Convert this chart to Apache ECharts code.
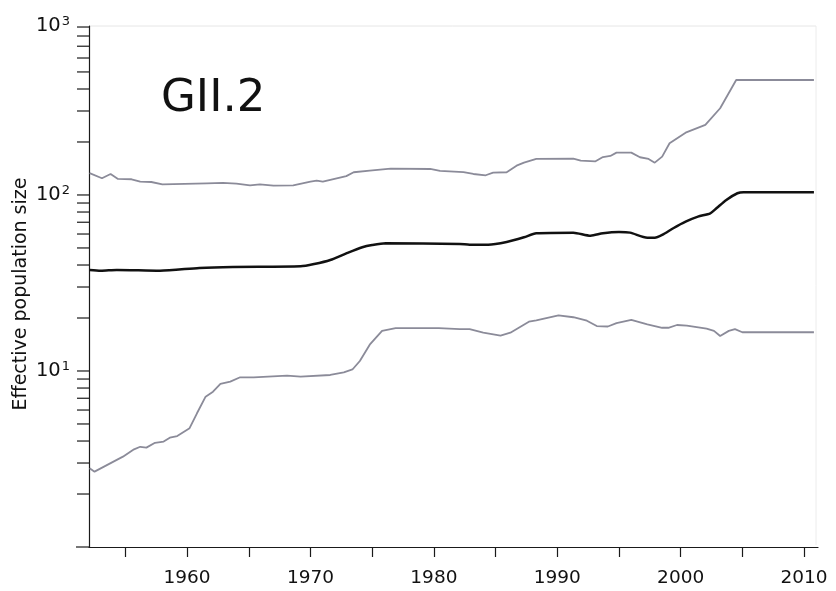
<!DOCTYPE html>
<html>
<head>
<meta charset="utf-8">
<script src="https://cdn.jsdelivr.net/npm/echarts@6/dist/echarts.min.js"></script>
<style>html,body{margin:0;padding:0;background:#fff}#c{width:836px;height:591px}</style>
</head>
<body>
<div id="c"></div>
<script>
// ---- data ----
const upperYears = [1952.1, 1953.1, 1953.8, 1954.4, 1955.5, 1956.2, 1957.1, 1958.0, 1961.6, 1962.9, 1964.0, 1965.1, 1965.9, 1967.0, 1968.6, 1970.0, 1970.5, 1971.0, 1972.9, 1973.5, 1974.8, 1976.5, 1979.7, 1980.5, 1982.4, 1983.2, 1984.2, 1984.8, 1985.9, 1986.7, 1987.3, 1988.3, 1991.3, 1991.9, 1993.1, 1993.7, 1994.3, 1994.8, 1996.0, 1996.7, 1997.4, 1997.9, 1998.5, 1999.1, 2000.4, 2002.0, 2003.2, 2004.5, 2010.8];
const upperValues = [133, 124.5, 131.6, 123.3, 122.8, 119, 118.5, 115, 116.5, 117, 116, 113.5, 115, 113, 113.5, 119, 120.5, 119, 128, 134.6, 137.4, 141, 140.5, 137, 135, 131.6, 129.4, 133.9, 134.6, 146.7, 152.6, 160.2, 160.8, 156.7, 155.4, 164.3, 166.6, 174, 174, 163.8, 160.2, 152.6, 165.1, 196.8, 226, 250, 311, 450, 450];

const medianYears = [1952.1, 1953.0, 1954.3, 1957.8, 1961.0, 1963.7, 1969.2, 1970.3, 1971.6, 1972.9, 1974.2, 1975.0, 1976.1, 1982.1, 1982.9, 1984.4, 1985.9, 1987.3, 1988.3, 1991.3, 1992.7, 1993.7, 1995.0, 1995.9, 1997.3, 1997.9, 1998.5, 1999.4, 2000.4, 2001.4, 2002.4, 2002.9, 2003.7, 2004.6, 2005.1, 2010.8];
const medianValues = [37.5, 37.1, 37.5, 37.1, 38.5, 39.0, 39.3, 40.5, 42.7, 46.6, 50.5, 52.0, 53.2, 52.7, 52.2, 52.2, 54.1, 57.5, 60.6, 61.1, 58.7, 60.6, 61.6, 61.1, 57.2, 57.2, 59.3, 64.7, 70.5, 75.3, 78.7, 84.0, 93.7, 102.3, 103.6, 103.6];

const lowerYears = [1952.1, 1952.5, 1954.8, 1955.7, 1956.2, 1956.7, 1957.4, 1958.1, 1958.6, 1959.2, 1960.2, 1960.8, 1961.5, 1962.1, 1962.7, 1963.5, 1964.3, 1965.4, 1968.1, 1969.2, 1971.6, 1972.7, 1973.4, 1974.0, 1974.8, 1975.8, 1976.9, 1980.4, 1982.1, 1982.9, 1984.0, 1985.4, 1986.2, 1987.7, 1988.3, 1990.1, 1991.3, 1992.4, 1993.2, 1994.1, 1994.8, 1996.0, 1997.3, 1998.5, 1999.0, 1999.7, 2000.5, 2002.1, 2002.7, 2003.2, 2003.9, 2004.4, 2005.0, 2010.8];
const lowerValues = [2.80, 2.68, 3.26, 3.59, 3.71, 3.67, 3.91, 3.97, 4.18, 4.27, 4.73, 5.75, 7.15, 7.63, 8.44, 8.70, 9.21, 9.21, 9.40, 9.29, 9.49, 9.83, 10.2, 11.4, 14.1, 16.9, 17.5, 17.5, 17.3, 17.3, 16.5, 15.9, 16.5, 19.05, 19.4, 20.7, 20.2, 19.3, 18.0, 17.9, 18.7, 19.5, 18.4, 17.6, 17.6, 18.25, 18.1, 17.4, 16.9, 15.8, 16.9, 17.3, 16.6, 16.6];

const xTickValues = [1955, 1960, 1965, 1970, 1975, 1980, 1985, 1990, 1995, 2000, 2005, 2010];
const xLabelValues = [1960, 1970, 1980, 1990, 2000, 2010];
const yTickValues = [2, 3, 4, 5, 6, 7, 8, 9, 10, 20, 30, 40, 50, 60, 70, 80, 90, 100, 200, 300, 400, 500, 600, 700, 800, 900];

const titleText = 'GII.2';
const yAxisTitle = 'Effective population size';

const X_MIN = 1952.05, X_MAX = 2011.13, Y_MIN = 1, Y_MAX = 912;

function pairs(xs, ys) { return xs.map((x, i) => [x, ys[i]]); }

const chart = echarts.init(document.getElementById('c'), null, { renderer: 'canvas' });
const axisColor = '#1a1a1a';
const grayLine = '#8b8b99';

chart.setOption({
  animation: false,
  backgroundColor: '#fff',
  title: {
    text: titleText, left: 156, top: 72,
    textStyle: { fontFamily: 'DejaVu Sans', fontSize: 45, fontWeight: 'normal', color: '#111' }
  },
  grid: { left: 89, right: 18, top: 26, bottom: 44, containLabel: false, outerBoundsMode: 'none' },
  xAxis: {
    type: 'value', min: X_MIN, max: X_MAX,
    axisLine: { show: true, lineStyle: { color: axisColor, width: 1.2 } },
    axisTick: { show: true, length: 10, customValues: xTickValues, lineStyle: { color: axisColor, width: 1.2 } },
    axisLabel: { customValues: xLabelValues, margin: 22, fontFamily: 'DejaVu Sans', fontSize: 18.5, color: '#111',
      formatter: v => String(Math.round(v)) },
    splitLine: { show: false }
  },
  yAxis: {
    type: 'log', logBase: 10, min: Y_MIN, max: Y_MAX,
    name: yAxisTitle, nameLocation: 'middle', nameRotate: 90, nameGap: 58, nameMoveOverlap: false,
    nameTextStyle: { fontFamily: 'DejaVu Sans', fontSize: 19, color: '#111', padding: [0, 15, 0, 0] },
    axisLine: { show: true, lineStyle: { color: axisColor, width: 1.2 } },
    axisTick: { show: false },
    splitLine: { show: false },
    axisLabel: {
      margin: 19,
      formatter: function (v) {
        if (v < 5) return '';
        const e = Math.round(Math.log10(v));
        return '{b|10}{s|' + e + '}';
      },
      rich: {
        b: { fontFamily: 'DejaVu Sans', fontSize: 19.5, color: '#111', lineHeight: 22 },
        s: { fontFamily: 'DejaVu Sans', fontSize: 13, color: '#111', verticalAlign: 'top', lineHeight: 13, padding: [0, 0, 9, 1] }
      }
    }
  },
  graphic: [
    { type: 'line', silent: true, shape: { x1: 76, y1: 547, x2: 89, y2: 547 }, style: { stroke: axisColor, lineWidth: 1.2 } },
    { type: 'line', silent: true, shape: { x1: 89, y1: 26, x2: 816, y2: 26 }, style: { stroke: '#e6e6e6', lineWidth: 1 } },
    { type: 'line', silent: true, shape: { x1: 816, y1: 26, x2: 816, y2: 545 }, style: { stroke: '#ececec', lineWidth: 1 } }
  ],
  series: [
    {
      type: 'custom', name: 'yticks', clip: false, silent: true,
      data: yTickValues.map(v => [X_MIN, v]),
      renderItem: function (params, api) {
        const p = api.coord([api.value(0), api.value(1)]);
        return { type: 'line', shape: { x1: p[0] - 12, y1: p[1], x2: p[0], y2: p[1] }, style: { stroke: axisColor, lineWidth: 1.2 } };
      }
    },
    { type: 'line', name: 'upper', data: pairs(upperYears, upperValues), showSymbol: false, symbol: 'none',
      lineStyle: { color: grayLine, width: 1.8 }, z: 3 },
    { type: 'line', name: 'lower', data: pairs(lowerYears, lowerValues), showSymbol: false, symbol: 'none',
      lineStyle: { color: grayLine, width: 1.8 }, z: 3 },
    { type: 'line', name: 'median', data: pairs(medianYears, medianValues), showSymbol: false, symbol: 'none', smooth: 0.25,
      lineStyle: { color: '#111', width: 2.5 }, z: 4 }
  ]
});
</script>
</body>
</html>
